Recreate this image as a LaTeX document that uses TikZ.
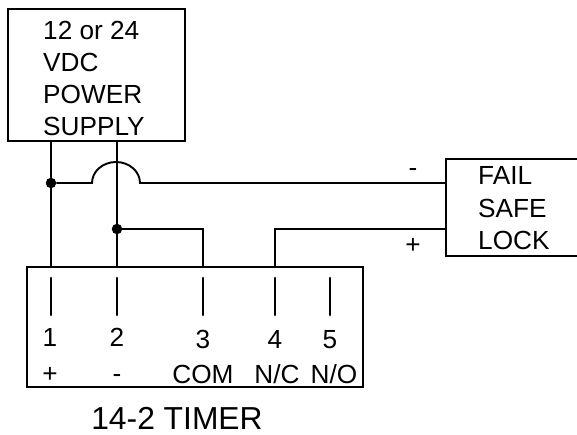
\documentclass[tikz,border=0pt]{standalone}
\usepackage{fontspec}
\setmainfont{Liberation Sans}
\begin{document}
\begin{tikzpicture}[x=1pt,y=-1pt,
  box/.style={draw,line width=2pt,rectangle,minimum width=0pt,inner sep=0pt},
  wire/.style={line width=1.9pt},
  term/.style={line width=2.6pt,line cap=round},
  dot/.style={circle,fill=black,inner sep=0pt,minimum size=10.5pt},
  lab/.style={anchor=base,inner sep=0pt,font=\fontsize{26.2}{32}\selectfont},
  labw/.style={anchor=base west,inner sep=0pt,font=\fontsize{26.2}{32}\selectfont},
  big/.style={anchor=base,inner sep=0pt,font=\fontsize{31.8}{36}\selectfont}]
\useasboundingbox (0,0) rectangle (577,435);
% boxes
\node[box,minimum width=177pt,minimum height=132pt] (psu) at (96.5,75) {};
\node[box,minimum width=336pt,minimum height=120pt] (timer) at (195,327) {};
\node[box,minimum width=136pt,minimum height=97pt] (lock) at (514,207.5) {};
% junctions and routing points
\coordinate (p1) at (51,141);
\coordinate (p2) at (117,141);
\node[dot] (j1) at (51,183) {};
\node[dot] (j2) at (117,229) {};
\coordinate (t1) at (51,267);
\coordinate (t2) at (117,267);
\coordinate (t3) at (203,267);
\coordinate (t4) at (275,267);
\coordinate (a) at (92,183);
\coordinate (b) at (140,183);
\coordinate (l1) at (446,183);
\coordinate (l2) at (446,229);
% wires
\draw[wire] (p1) -- (j1) -- (t1);
\draw[wire] (p2) -- (j2) -- (t2);
\draw[wire] (j1) -- (a) arc[start angle=180,end angle=0,x radius=24,y radius=-21] -- (l1);
\draw[wire] (j2) -| (t3);
\draw[wire] (t4) |- (l2);
% terminals
\foreach \x/\n in {51/a,117/b,203/c,275/d,330/e}{
  \coordinate (s\n) at (\x,278);
  \coordinate (e\n) at (\x,315);
  \draw[term] (s\n) -- (e\n);
}
% power supply text
\node[labw] (pa) at (43,40) {12 or 24};
\node[labw] (pb) at (43,72) {VDC};
\node[labw] (pc) at (43,104) {POWER};
\node[labw] (pd) at (43,136) {SUPPLY};
% lock text
\node[labw] (fa) at (478,185) {FAIL};
\node[labw] (fb) at (478,218) {SAFE};
\node[labw] (fc) at (478,250) {LOCK};
\node[lab] (mi) at (413,177) {-};
\node[lab] (pl) at (413,254) {+};
% timer text
\node[lab] (n1) at (50,346) {1};
\node[lab] (n2) at (117,346) {2};
\node[lab] (n3) at (203,348) {3};
\node[lab] (n4) at (275,348) {4};
\node[lab] (n5) at (330,348) {5};
\node[lab] (s1) at (50,382) {+};
\node[lab] (s2) at (117,382) {-};
\node[lab] (s3) at (203,383) {COM};
\node[lab] (s4) at (277,383) {N/C};
\node[lab] (s5) at (334,383) {N/O};
\node[big] (title) at (177,429) {14-2 TIMER};
\end{tikzpicture}
\end{document}
